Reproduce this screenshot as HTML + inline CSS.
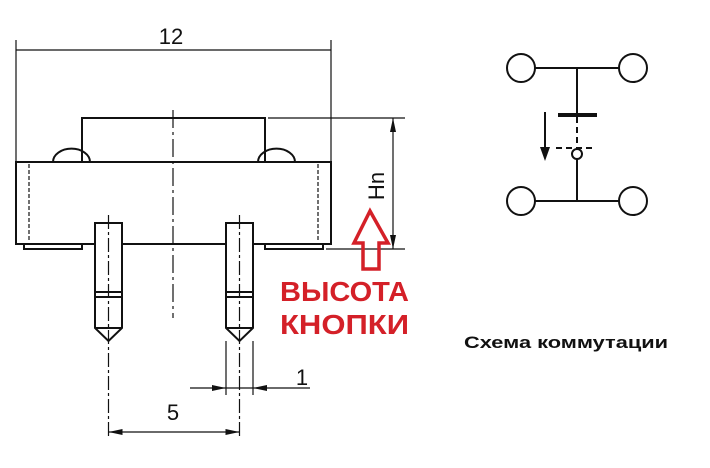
<!DOCTYPE html>
<html><head><meta charset="utf-8"><style>body{margin:0;background:#fff}svg{display:block}</style></head><body>
<svg width="710" height="468" viewBox="0 0 710 468" xmlns="http://www.w3.org/2000/svg" font-family="Liberation Sans, DejaVu Sans, sans-serif">
<g stroke="#111" fill="none" stroke-width="2">
<line x1="16" y1="40" x2="16" y2="162" stroke-width="1.2"/>
<line x1="331" y1="40" x2="331" y2="162" stroke-width="1.2"/>
<line x1="16" y1="50" x2="331" y2="50" stroke-width="1.2"/>
<path d="M82 162 V118 H265 V162"/>
<path d="M53 162 A18 13 0 0 1 90 162"/>
<path d="M258 162 A18 13 0 0 1 295 162"/>
<rect x="16" y="162" width="315" height="82"/>
<path d="M24 244 V249 H82 V244"/>
<path d="M265 244 V249 H323 V244"/>
<line x1="29" y1="164" x2="29" y2="242" stroke-dasharray="4,2" stroke-width="1.2"/>
<line x1="318" y1="164" x2="318" y2="242" stroke-dasharray="4,2" stroke-width="1.2"/>
<line x1="173" y1="110" x2="173" y2="318" stroke-dasharray="18,4,3,4" stroke-width="1.2"/>
<path d="M95 223 H122 V328 L108.5 341 L95 328 Z" fill="#fff"/>
<line x1="95" y1="292" x2="122" y2="292"/><line x1="95" y1="297" x2="122" y2="297"/><line x1="95" y1="328" x2="122" y2="328"/>
<path d="M226 223 H253 V328 L239.5 341 L226 328 Z" fill="#fff"/>
<line x1="226" y1="292" x2="253" y2="292"/><line x1="226" y1="297" x2="253" y2="297"/><line x1="226" y1="328" x2="253" y2="328"/>
<line x1="108.5" y1="215" x2="108.5" y2="438" stroke-dasharray="14,3,3,3" stroke-width="1.2"/>
<line x1="239.5" y1="215" x2="239.5" y2="438" stroke-dasharray="14,3,3,3" stroke-width="1.2"/>
<line x1="226" y1="341" x2="226" y2="395" stroke-width="1.2"/>
<line x1="253" y1="341" x2="253" y2="395" stroke-width="1.2"/>
<line x1="190" y1="388" x2="310" y2="388" stroke-width="1.2"/>
<line x1="108.5" y1="432" x2="239.5" y2="432" stroke-width="1.2"/>
<line x1="268" y1="118" x2="405" y2="118" stroke-width="1.2"/>
<line x1="326" y1="249" x2="405" y2="249" stroke-width="1.2"/>
<line x1="393" y1="118" x2="393" y2="249" stroke-width="1.2"/>
</g>
<g fill="#111">
<path d="M226 388 l-14 -3 v6 z"/><path d="M253 388 l14 -3 v6 z"/>
<path d="M108.5 432 l14 -3 v6 z"/><path d="M239.5 432 l-14 -3 v6 z"/>
<path d="M393 118 l-3 14 h6 z"/><path d="M393 249 l-3 -14 h6 z"/>
</g>
<g font-size="22" fill="#111">
<text x="171" y="44" text-anchor="middle">12</text>
<text x="173" y="420" text-anchor="middle">5</text>
<text x="302" y="385" text-anchor="middle">1</text>
<text transform="translate(384,186) rotate(-90)" text-anchor="middle">Hn</text>
</g>
<path d="M370 211 L354 243 H363 V269 H379 V243 H388 Z" fill="none" stroke="#d42028" stroke-width="3.5"/>
<g fill="#d42028" font-weight="bold" font-size="28">
<text x="280" y="301" textLength="129" lengthAdjust="spacingAndGlyphs">ВЫСОТА</text>
<text x="280" y="334" textLength="129" lengthAdjust="spacingAndGlyphs">КНОПКИ</text>
</g>
<text x="464" y="348" font-size="17" font-weight="bold" fill="#111" textLength="204" lengthAdjust="spacingAndGlyphs">Схема коммутации</text>
<g stroke="#111" fill="none" stroke-width="2">
<circle cx="521" cy="68" r="14"/><circle cx="633" cy="68" r="14"/>
<circle cx="521" cy="201" r="14"/><circle cx="633" cy="201" r="14"/>
<line x1="535" y1="68" x2="619" y2="68"/><line x1="535" y1="201" x2="619" y2="201"/>
<line x1="577" y1="68" x2="577" y2="115"/>
<line x1="558" y1="115" x2="597" y2="115" stroke-width="4"/>
<line x1="577" y1="117" x2="577" y2="150" stroke-dasharray="6,4"/>
<line x1="556" y1="148" x2="596" y2="148" stroke-dasharray="6,4"/>
<circle cx="577" cy="154" r="5" fill="#fff"/>
<line x1="577" y1="159" x2="577" y2="201"/>
<line x1="545" y1="112" x2="545" y2="148"/>
</g>
<path d="M545 161 l-5 -14 h10 z" fill="#111"/>
</svg>
</body></html>
